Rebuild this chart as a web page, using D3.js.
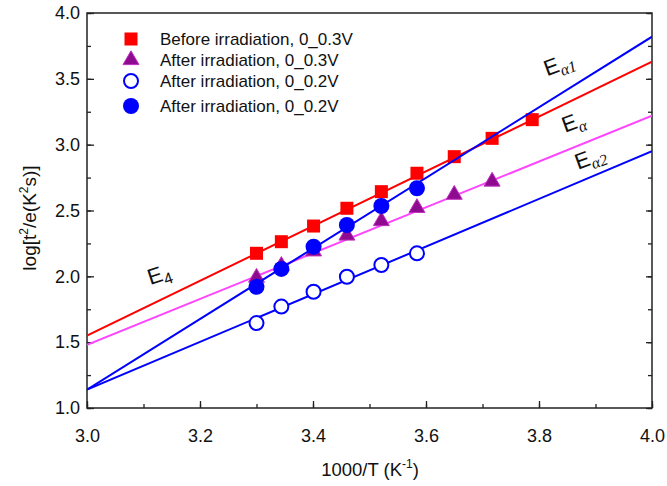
<!DOCTYPE html>
<html>
<head>
<meta charset="utf-8">
<script src="https://cdn.jsdelivr.net/npm/d3@7"></script>
<style>
   body { margin: 0; background: #fff; }
   text { font-family: Arial, "Liberation Sans", sans-serif; fill: #111; }
</style>
</head>
<body>
<svg id="chart" width="667" height="486"></svg>
<script>
// 1000/T values of the measurement points
var invT = [3.300, 3.344, 3.401, 3.460, 3.521, 3.584, 3.650, 3.717, 3.788];

// log[t^2/e] for each series
var beforeV3 = [2.175, 2.263, 2.382, 2.517, 2.643, 2.783, 2.909, 3.048, 3.190];
var afterV3 = [1.99, 2.08, 2.19, 2.31, 2.42, 2.52, 2.62, 2.72];
var afterV2open = [1.645, 1.770, 1.883, 1.997, 2.086, 2.175];
var afterV2fill = [1.920, 2.056, 2.225, 2.390, 2.534, 2.669];

// fitted lines, value at 1000/T = 3.0 and 4.0
var fitX = [3.0, 4.0];
var fitE4 = [1.55, 3.63];
var fitEa = [1.48, 3.22];
var fitEa1 = [1.14, 3.82];
var fitEa2 = [1.14, 2.95];

var legendNames = ["Before irradiation, 0_0.3V", "After irradiation, 0_0.3V",
                   "After irradiation, 0_0.2V", "After irradiation, 0_0.2V"];
var xTicks = [3.0, 3.2, 3.4, 3.6, 3.8, 4.0];
var yTicks = [1.0, 1.5, 2.0, 2.5, 3.0, 3.5, 4.0];

var svg = d3.select("#chart");
var plotL = 87, plotR = 652, plotT = 13, plotB = 408;

var x = d3.scaleLinear().domain([3.0, 4.0]).range([plotL, plotR]);
var y = d3.scaleLinear().domain([1.0, 4.0]).range([plotB, plotT]);

var RED = "#ff0000", MAG = "#ff44ff", PURPLE = "#8e0a8e", BLUE = "#0000ff";

function pts(vals) {
   return vals.map(function(v, i){ return [invT[i], v]; });
}
function fitPts(vals) {
   return vals.map(function(v, i){ return [fitX[i], v]; });
}
var line = d3.line().x(function(d){ return x(d[0]); }).y(function(d){ return y(d[1]); });

// axes, ticks point inward
var minorX = d3.range(3.0, 4.001, 0.1);
var minorY = d3.range(1.0, 4.001, 0.25);

svg.append("g").attr("transform", "translate(0," + plotB + ")")
   .call(d3.axisBottom(x).tickValues(minorX).tickSize(-4).tickFormat(""));
svg.append("g").attr("transform", "translate(0," + plotB + ")")
   .call(d3.axisBottom(x).tickValues(xTicks).tickSize(-7).tickPadding(21).tickFormat(d3.format(".1f")));
svg.append("g").attr("transform", "translate(" + plotL + ",0)")
   .call(d3.axisLeft(y).tickValues(minorY).tickSize(-4).tickFormat(""));
svg.append("g").attr("transform", "translate(" + plotL + ",0)")
   .call(d3.axisLeft(y).tickValues(yTicks).tickSize(-7).tickPadding(7).tickFormat(d3.format(".1f")));
svg.append("g").attr("transform", "translate(" + plotR + ",0)")
   .call(d3.axisRight(y).tickValues(minorY).tickSize(-4).tickFormat(""));
svg.append("g").attr("transform", "translate(" + plotR + ",0)")
   .call(d3.axisRight(y).tickValues(yTicks).tickSize(-6).tickFormat(""));

svg.selectAll(".domain").remove();
svg.selectAll(".tick line").attr("stroke", "#222").attr("stroke-width", 1.3);
svg.selectAll(".tick text").style("font-size", "18px").attr("fill", "#111");

svg.append("rect")
   .attr("x", plotL).attr("y", plotT)
   .attr("width", plotR - plotL).attr("height", plotB - plotT)
   .attr("fill", "none").attr("stroke", "#222").attr("stroke-width", 1.5);

// clip for fit lines
svg.append("clipPath").attr("id", "plotclip").append("rect")
   .attr("x", plotL).attr("y", plotT).attr("width", plotR - plotL).attr("height", plotB - plotT);

function drawLine(vals, color) {
   svg.append("path").datum(fitPts(vals))
      .attr("clip-path", "url(#plotclip)")
      .attr("d", line).attr("fill", "none")
      .attr("stroke", color).attr("stroke-width", 2);
}

// red squares
drawLine(fitE4, RED);
svg.selectAll("rect.sq").data(pts(beforeV3)).enter().append("rect")
   .attr("class", "sq")
   .attr("x", function(d){ return x(d[0]) - 6.5; })
   .attr("y", function(d){ return y(d[1]) - 6.5; })
   .attr("width", 13).attr("height", 13)
   .attr("fill", RED);

// triangles
var tri = d3.symbol().type(d3.symbolTriangle).size(110);
drawLine(fitEa, MAG);
svg.selectAll("path.tri").data(pts(afterV3)).enter().append("path")
   .attr("class", "tri")
   .attr("d", tri)
   .attr("transform", function(d){ return "translate(" + x(d[0]) + "," + y(d[1]) + ")"; })
   .attr("fill", PURPLE).attr("stroke", "#c030c0").attr("stroke-width", 1);

// open circles
drawLine(fitEa2, BLUE);
svg.selectAll("circle.open").data(pts(afterV2open)).enter().append("circle")
   .attr("class", "open")
   .attr("cx", function(d){ return x(d[0]); })
   .attr("cy", function(d){ return y(d[1]); })
   .attr("r", 7).attr("fill", "#fff")
   .attr("stroke", BLUE).attr("stroke-width", 2);

// filled circles, line drawn over the squares
drawLine(fitEa1, BLUE);
svg.selectAll("circle.fill").data(pts(afterV2fill)).enter().append("circle")
   .attr("class", "fill")
   .attr("cx", function(d){ return x(d[0]); })
   .attr("cy", function(d){ return y(d[1]); })
   .attr("r", 8).attr("fill", BLUE);

// line labels
function energyLabel(px, py, sub, italic, angle) {
   var t = svg.append("text")
      .attr("transform", "translate(" + px + "," + py + ") rotate(" + angle + ")")
      .style("font-size", "22px");
   t.append("tspan").text("E");
   t.append("tspan")
      .attr("dy", 5)
      .style("font-size", "16px")
      .style("font-family", italic ? "'Liberation Serif', 'Times New Roman', serif" : null)
      .style("font-style", italic ? "italic" : null)
      .text(sub);
}
energyLabel(x(3.814), y(3.52), "\u03b11", true, -20);
energyLabel(x(3.846), y(3.09), "\u03b1", true, -20);
energyLabel(x(3.869), y(2.81), "\u03b12", true, -20);
energyLabel(x(3.112), y(1.935), "4", false, -18);

// legend
var legY = [39, 60, 81, 106];
var lg = svg.append("g");
lg.append("rect").attr("x", 124.5).attr("y", legY[0] - 6.5).attr("width", 13).attr("height", 13).attr("fill", RED);
lg.append("path").attr("d", tri)
   .attr("transform", "translate(131," + legY[1] + ")")
   .attr("fill", PURPLE).attr("stroke", "#c030c0").attr("stroke-width", 1);
lg.append("circle").attr("cx", 131).attr("cy", legY[2]).attr("r", 7)
   .attr("fill", "#fff").attr("stroke", BLUE).attr("stroke-width", 2);
lg.append("circle").attr("cx", 131).attr("cy", legY[3]).attr("r", 8).attr("fill", BLUE);
lg.selectAll("text").data(legendNames).enter().append("text")
   .attr("x", 160)
   .attr("y", function(d, i){ return legY[i]; })
   .attr("dy", "0.36em")
   .style("font-size", "17px")
   .text(function(d){ return d; });

// axis titles
var xt = svg.append("text")
   .attr("x", 370).attr("y", 476)
   .attr("text-anchor", "middle")
   .style("font-size", "18.5px");
xt.append("tspan").text("1000/T (K");
xt.append("tspan").attr("dy", -8).style("font-size", "12px").text("-1");
xt.append("tspan").attr("dy", 8).text(")");

var yt = svg.append("text")
   .attr("transform", "translate(36,218) rotate(-90)")
   .attr("text-anchor", "middle")
   .style("font-size", "19px");
yt.append("tspan").text("log[t");
yt.append("tspan").attr("dy", -8).style("font-size", "12px").text("2");
yt.append("tspan").attr("dy", 8).text("/e(K");
yt.append("tspan").attr("dy", -8).style("font-size", "12px").text("2");
yt.append("tspan").attr("dy", 8).text("s)]");
</script>
</body>
</html>
